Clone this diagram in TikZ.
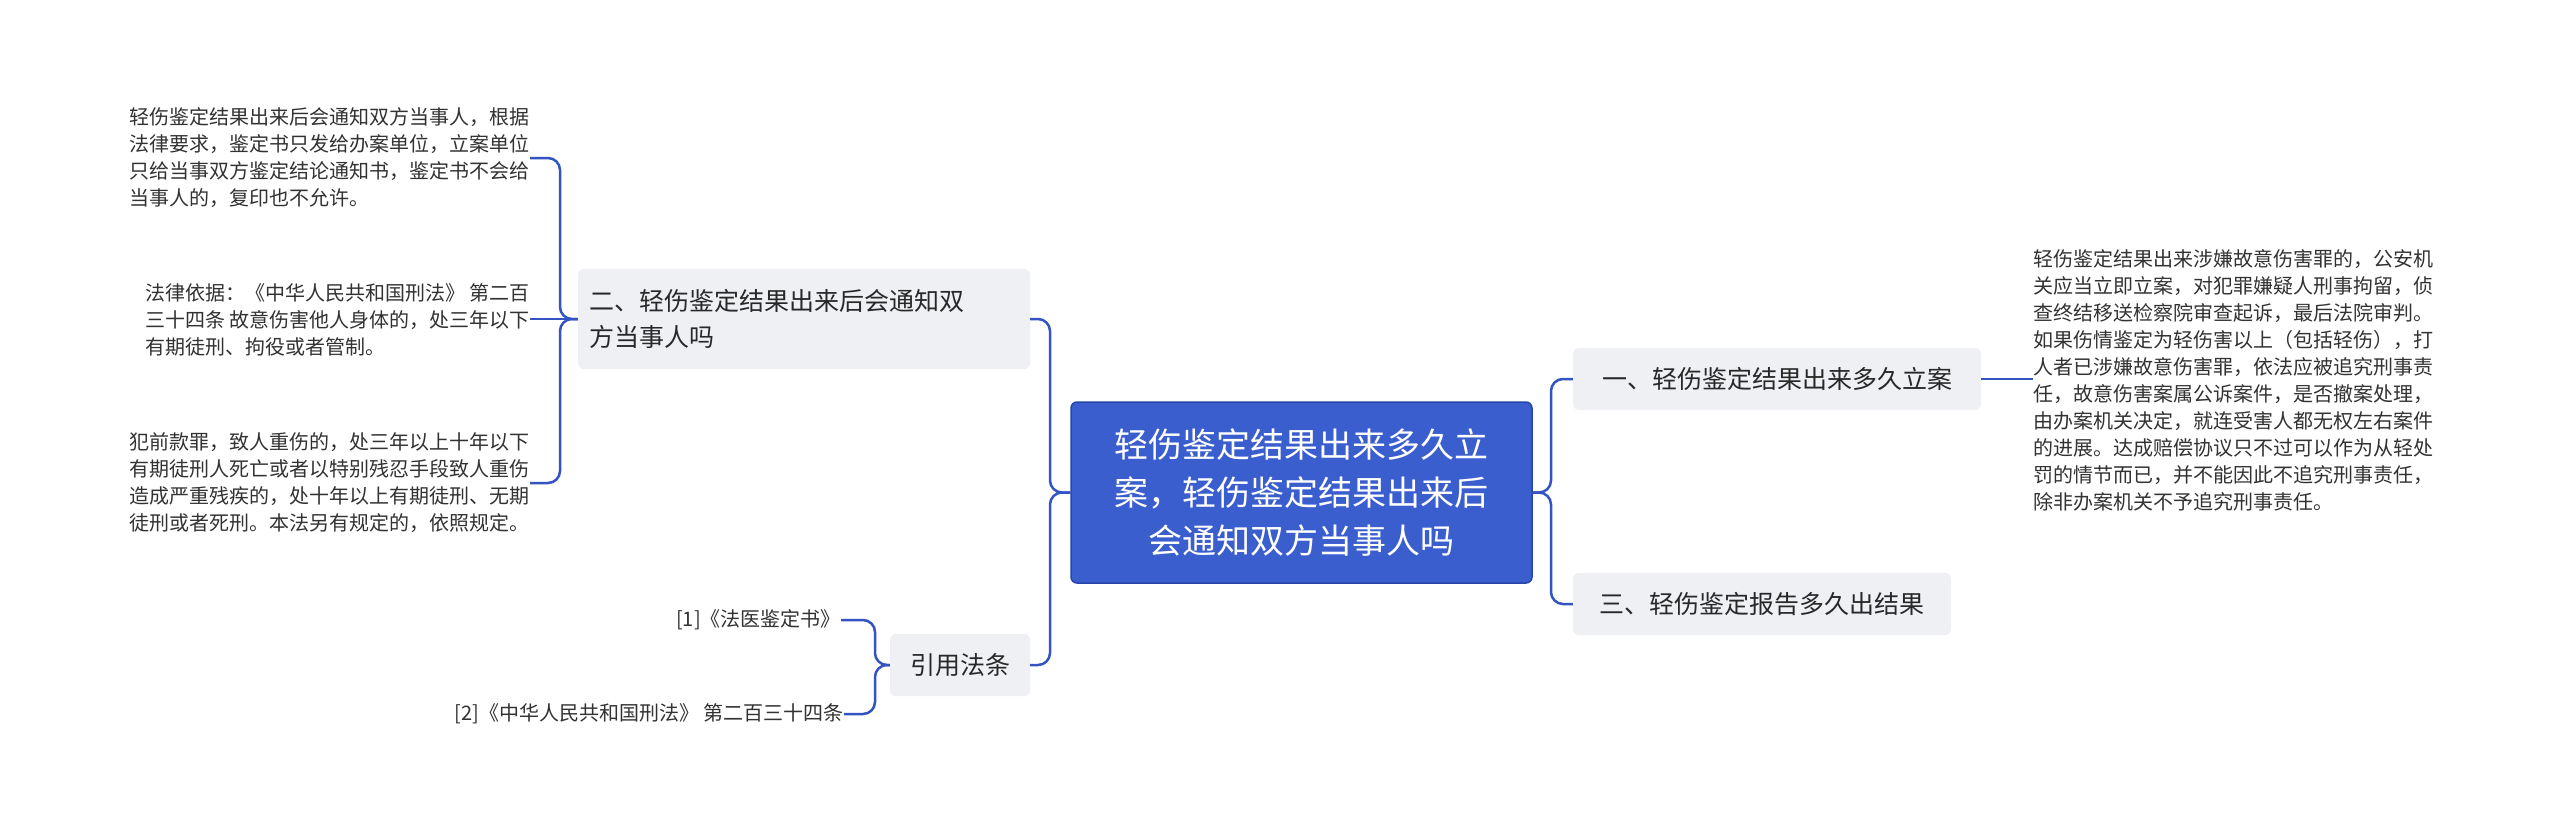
\documentclass[tikz,border=0pt]{standalone}
\usepackage{fontspec}
\setmainfont{Noto Sans CJK SC}
\begin{document}
\begin{tikzpicture}[x=1pt,y=-1pt,
  conn/.style={draw=blue!55!black!80!cyan, color={rgb,255:red,52;green,84;blue,196}, line width=2.5pt, rounded corners=12pt},
  branch/.style={fill={rgb,255:red,238;green,240;blue,244}, rounded corners=6pt, inner sep=0pt, text={rgb,255:red,40;green,40;blue,40}, font=\fontsize{25}{36}\selectfont, align=left},
  leaf/.style={inner sep=0pt, text={rgb,255:red,50;green,50;blue,50}, font=\fontsize{20}{27}\selectfont, align=left},
]
\useasboundingbox (0,0) rectangle (2560,827);
\fill[white] (0,0) rectangle (2560,827);
\node[fill={rgb,255:red,59;green,94;blue,206}, draw={rgb,255:red,40;green,70;blue,170}, line width=1.5pt, rounded corners=6pt, minimum width=461pt, minimum height=181pt, text=white, font=\fontsize{34}{48}\selectfont, align=center] (c) at (1301.5,492.5) {轻伤鉴定结果出来多久立\\案，轻伤鉴定结果出来后\\会通知双方当事人吗};
\node[branch, minimum width=408pt, minimum height=62pt] (r1) at (1777,379) {一、轻伤鉴定结果出来多久立案};
\node[branch, minimum width=378pt, minimum height=62pt] (r3) at (1762,604) {三、轻伤鉴定报告多久出结果};
\node[branch, minimum width=452pt, minimum height=100pt, text width=430pt] (b2) at (804,319) {二、轻伤鉴定结果出来后会通知双\\方当事人吗};
\node[branch, minimum width=140pt, minimum height=62pt] (ref) at (960,665) {引用法条};
\node[leaf, anchor=west] (rt) at (2033,380) {轻伤鉴定结果出来涉嫌故意伤害罪的，公安机\\关应当立即立案，对犯罪嫌疑人刑事拘留，侦\\查终结移送检察院审查起诉，最后法院审判。\\如果伤情鉴定为轻伤害以上（包括轻伤），打\\人者已涉嫌故意伤害罪，依法应被追究刑事责\\任，故意伤害案属公诉案件，是否撤案处理，\\由办案机关决定，就连受害人都无权左右案件\\的进展。达成赔偿协议只不过可以作为从轻处\\罚的情节而已，并不能因此不追究刑事责任，\\除非办案机关不予追究刑事责任。};
\node[leaf, anchor=east] (t1) at (530,158) {轻伤鉴定结果出来后会通知双方当事人，根据\\法律要求，鉴定书只发给办案单位，立案单位\\只给当事双方鉴定结论通知书，鉴定书不会给\\当事人的，复印也不允许。};
\node[leaf, anchor=east] (t2) at (530,320) {法律依据：《中华人民共和国刑法》 第二百\\三十四条 故意伤害他人身体的，处三年以下\\有期徒刑、拘役或者管制。};
\node[leaf, anchor=east] (t3) at (530,483) {犯前款罪，致人重伤的，处三年以上十年以下\\有期徒刑人死亡或者以特别残忍手段致人重伤\\造成严重残疾的，处十年以上有期徒刑、无期\\徒刑或者死刑。本法另有规定的，依照规定。};
\node[leaf, anchor=east] (f1) at (841,620) {[1]《法医鉴定书》};
\node[leaf, anchor=east] (f2) at (844,714) {[2]《中华人民共和国刑法》 第二百三十四条};
\draw[conn] (c.west) -- (1050,492.5) |- (b2.east);
\draw[conn] (c.west) -- (1050,492.5) |- (ref.east);
\draw[conn] (c.east) -- (1551,492.5) |- (r1.west);
\draw[conn] (c.east) -- (1551,492.5) |- (r3.west);
\draw[conn] (r1.east) -- (rt.west |- r1.east);
\draw[conn] (b2.west) -- (560,319) |- (t1.east);
\draw[conn] (b2.west) -- (t2.east |- b2.west);
\draw[conn] (b2.west) -- (560,319) |- (t3.east);
\draw[conn] (ref.west) -- (875,665) |- (f1.east);
\draw[conn] (ref.west) -- (875,665) |- (f2.east);
\end{tikzpicture}
\end{document}
